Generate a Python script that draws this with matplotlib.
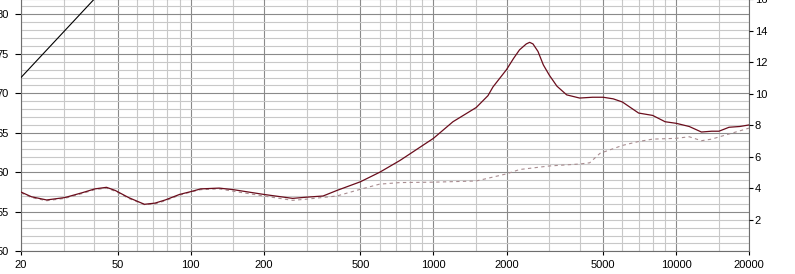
import numpy as np
import matplotlib
matplotlib.use("Agg")
import matplotlib.pyplot as plt
from matplotlib.ticker import FixedLocator, NullFormatter

# ---- data ----
freq = [20, 22.1, 25.5, 30.3, 35.6, 40.3, 45, 48.9, 55.5, 64.5, 71.3, 78.6, 90, 100,
        110, 131, 150, 200, 263, 300, 351, 400, 500, 600, 728, 1000, 1203, 1500,
        1677, 1758, 2000, 2136, 2262, 2412, 2490, 2570, 2695, 2835, 3000, 3226, 3539,
        4000, 4520, 5000, 5500, 6000, 7000, 8000, 9000, 10000, 11310, 12700, 14000,
        15000, 16500, 18300, 20000]
spl = [57.5, 56.9, 56.5, 56.8, 57.4, 57.9, 58.1, 57.7, 56.8, 55.95, 56.1, 56.5, 57.2, 57.55,
       57.9, 58.0, 57.8, 57.2, 56.7, 56.85, 57.0, 57.7, 58.8, 60.0, 61.5, 64.3, 66.4, 68.2,
       69.7, 70.8, 73.0, 74.4, 75.5, 76.25, 76.45, 76.25, 75.3, 73.6, 72.3, 70.9, 69.8,
       69.4, 69.5, 69.5, 69.3, 68.9, 67.5, 67.2, 66.4, 66.2, 65.8, 65.1, 65.2,
       65.2, 65.7, 65.8, 66.0]

freq2 = [20, 22.1, 25.5, 30.3, 35.6, 40.3, 45, 48.9, 55.5, 64.5, 71.3, 78.6, 90, 100,
         110, 131, 150, 200, 263, 300, 400, 500, 600, 728, 1000, 1500, 2000, 2262,
         3000, 4000, 4400, 4852, 6000, 7000, 8000, 10000, 11310, 12700, 14000,
         16500, 20000]
spl2 = [57.4, 56.8, 56.4, 56.7, 57.3, 57.8, 58.0, 57.6, 56.7, 55.9, 56.0, 56.4, 57.1, 57.5,
        57.8, 57.9, 57.6, 57.0, 56.45, 56.6, 57.0, 57.85, 58.5, 58.7, 58.75, 58.9, 59.8, 60.35,
        60.8, 61.05, 61.2, 62.4, 63.4, 63.9, 64.2, 64.3, 64.5, 64.0, 64.2,
        64.85, 65.6]

freq3 = [20, 42]
spl3 = [72.0, 82.6]

xticks = [20, 50, 100, 200, 500, 1000, 2000, 5000, 10000, 20000]
xlabels = ["20", "50", "100", "200", "500", "1000", "2000", "5000", "10000", "20000"]
xminor = [30, 40, 60, 70, 80, 90, 150, 300, 400, 600, 700, 800, 900, 1500,
          3000, 4000, 6000, 7000, 8000, 9000, 15000]
yticks_left = [50, 55, 60, 65, 70, 75, 80]
yticks_right = [2, 4, 6, 8, 10, 12, 14, 16]

# ---- figure ----
W, H = 795, 274
fig = plt.figure(figsize=(W / 100, H / 100), dpi=100)
x0, x1 = 21, 749.3
ybot, ytop = 251.3, -0.8
ax = fig.add_axes([x0 / W, (H - ybot) / H, (x1 - x0) / W, (ybot - ytop) / H])
ax.set_xscale("log")
ax.set_xlim(20, 20000)
ax.set_ylim(50, 50 + (ybot - ytop) / 7.9)

font = dict(family="Liberation Sans", size=8)

ax.xaxis.set_major_locator(FixedLocator(xticks))
ax.xaxis.set_minor_locator(FixedLocator(xminor))
ax.set_xticklabels(xlabels, **font)
ax.xaxis.set_minor_formatter(NullFormatter())
ax.yaxis.set_major_locator(FixedLocator(yticks_left))
ax.yaxis.set_minor_locator(FixedLocator(np.arange(50, 82, 1)))
ax.set_yticklabels([str(v) for v in yticks_left], **font)

ax.grid(True, which="major", color="#8a8a8a", lw=0.8)
ax.grid(True, which="minor", color="#c8c8c8", lw=0.8)
ax.set_axisbelow(True)
ax.tick_params(which="major", direction="out", length=3, width=0.8, color="#000000", pad=3)
ax.tick_params(axis="y", which="major", length=4, pad=5)
ax.tick_params(which="minor", length=0)
for s in ax.spines.values():
    s.set_color("#6e6e6e")
    s.set_linewidth(0.8)

ax.plot(freq2, spl2, color="#a88c90", lw=0.8, ls=(0, (3, 3)), zorder=3)
ax.plot(freq, spl, color="#6a0d1c", lw=0.9, zorder=4)
ax.plot(freq3, spl3, color="#000000", lw=0.8, zorder=4)

ax2 = ax.twinx()
ax2.set_ylim(0, (ybot - ytop) / 15.75)
ax2.yaxis.set_major_locator(FixedLocator(yticks_right))
ax2.set_yticklabels([str(v) for v in yticks_right], **font)
ax2.tick_params(axis="y", direction="out", length=3, width=0.8, pad=1)
for s in ax2.spines.values():
    s.set_visible(False)

fig.savefig("out.png", dpi=100, facecolor="white")
